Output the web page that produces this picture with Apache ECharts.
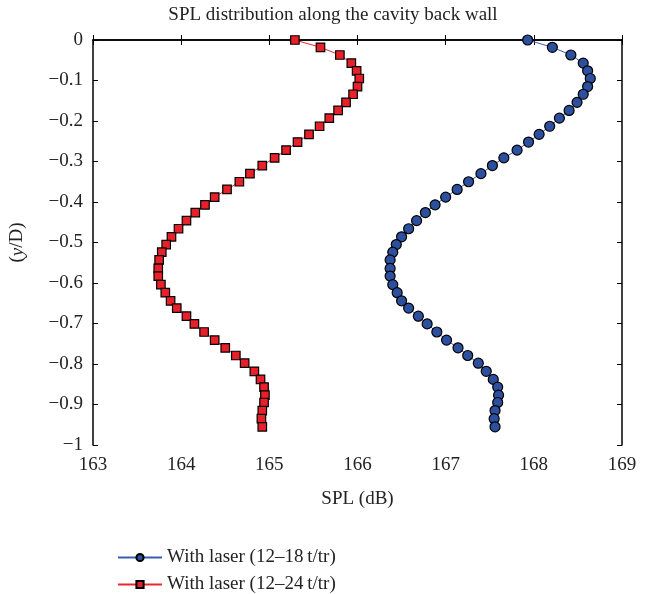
<!DOCTYPE html>
<html>
<head>
<meta charset="utf-8">
<script src="https://cdn.jsdelivr.net/npm/echarts@6/dist/echarts.min.js"></script>
<style>html,body{margin:0;padding:0;background:#fff}#c{width:648px;height:594px}</style>
</head>
<body>
<div id="c"></div>
<script>
var yPos = [0, -0.018, -0.037, -0.057, -0.076, -0.095, -0.115, -0.134, -0.154, -0.174,
  -0.193, -0.213, -0.233, -0.252, -0.272, -0.291, -0.310, -0.330, -0.350, -0.369,
  -0.388, -0.407, -0.426, -0.446, -0.466, -0.486, -0.505, -0.524, -0.543, -0.564,
  -0.583, -0.604, -0.624, -0.644, -0.662, -0.682, -0.701, -0.721, -0.741, -0.760,
  -0.779, -0.798, -0.818, -0.838, -0.857, -0.877, -0.895, -0.915, -0.935, -0.955];
var splBlue = [167.93,168.21,168.42,168.56,168.61,168.64,168.61,168.56,168.49,168.40,
  168.29,168.18,168.06,167.94,167.81,167.66,167.53,167.40,167.26,167.13,
  167.00,166.88,166.77,166.67,166.58,166.50,166.44,166.40,166.37,166.37,
  166.37,166.40,166.45,166.50,166.58,166.69,166.79,166.90,167.01,167.14,
  167.25,167.37,167.46,167.54,167.59,167.60,167.59,167.56,167.55,167.56];
var splRed = [165.29,165.58,165.80,165.93,165.99,166.02,166.00,165.95,165.87,165.78,
  165.68,165.57,165.45,165.32,165.19,165.06,164.92,164.78,164.66,164.52,
  164.38,164.27,164.16,164.06,163.97,163.89,163.83,163.78,163.75,163.74,
  163.74,163.77,163.82,163.88,163.95,164.06,164.15,164.26,164.38,164.50,
  164.62,164.72,164.83,164.90,164.94,164.95,164.94,164.92,164.91,164.92];
var seriesNames = ['With laser (12\u201318\u2009t/tr)', 'With laser (12\u201324\u2009t/tr)'];
var titleText = 'SPL distribution along the cavity back wall';

function pairs(xs) { return xs.map(function (x, i) { return [x, yPos[i]]; }); }
var serif = '"Liberation Serif", "DejaVu Serif", serif';
var fmtY = function (v) { return String(v).replace('-', '\u2212'); };
var txt = '#222';

var chart = echarts.init(document.getElementById('c'), null, {renderer: 'canvas'});
var axisLine = {show: true, lineStyle: {color: '#000', width: 1.5}};
var tickIn = {show: true, inside: true, length: 5, lineStyle: {color: '#000', width: 1}};
var legendBase = {
  orient: 'vertical', left: 112, itemWidth: 44, itemHeight: 9,
  textStyle: {fontFamily: serif, fontSize: 19, color: txt}
};
chart.setOption({
  animation: false,
  backgroundColor: '#fff',
  title: {
    text: titleText, left: 328, top: 1, textAlign: 'center',
    textStyle: {fontFamily: serif, fontSize: 19, fontWeight: 'normal', color: txt}
  },
  grid: {left: 92.5, right: 26, top: 40, bottom: 149},
  legend: [
    Object.assign({}, legendBase, {top: 543, data: [seriesNames[0]]}),
    Object.assign({}, legendBase, {top: 570, data: [seriesNames[1]]})
  ],
  xAxis: [{
    type: 'value', min: 163, max: 169, interval: 1, position: 'bottom',
    name: 'SPL (dB)', nameLocation: 'middle', nameGap: 45,
    nameTextStyle: {fontFamily: serif, fontSize: 19, color: txt},
    axisLine: axisLine, axisTick: tickIn, splitLine: {show: false},
    axisLabel: {fontFamily: serif, fontSize: 19, color: txt, margin: 11}
  }, {
    type: 'value', min: 163, max: 169, interval: 1, position: 'top',
    axisLine: axisLine, axisTick: tickIn, splitLine: {show: false}, axisLabel: {show: false}
  }],
  yAxis: [{
    type: 'value', min: -1, max: 0, interval: 0.1, position: 'left',
    name: '({i|y}/D)', nameLocation: 'middle', nameGap: 66, nameRotate: 90,
    nameTextStyle: {fontFamily: serif, fontSize: 19, color: txt,
      rich: {i: {fontFamily: serif, fontSize: 19, fontStyle: 'italic', color: txt}}},
    axisLine: axisLine, axisTick: tickIn, splitLine: {show: false},
    axisLabel: {fontFamily: serif, fontSize: 19, color: txt, margin: 10, formatter: fmtY}
  }, {
    type: 'value', min: -1, max: 0, interval: 0.1, position: 'right',
    axisLine: axisLine, axisTick: tickIn, splitLine: {show: false}, axisLabel: {show: false}
  }],
  series: [{
    name: seriesNames[0], type: 'line', data: pairs(splBlue),
    symbol: 'circle', symbolSize: 10,
    lineStyle: {color: '#3a5cb4', width: 1},
    itemStyle: {color: '#2c4f9e', borderColor: '#000', borderWidth: 1.2}
  }, {
    name: seriesNames[1], type: 'line', data: pairs(splRed),
    symbol: 'rect', symbolSize: 8.5,
    lineStyle: {color: '#e8282c', width: 1},
    itemStyle: {color: '#e8202a', borderColor: '#000', borderWidth: 1.2}
  }]
});
</script>
</body>
</html>
